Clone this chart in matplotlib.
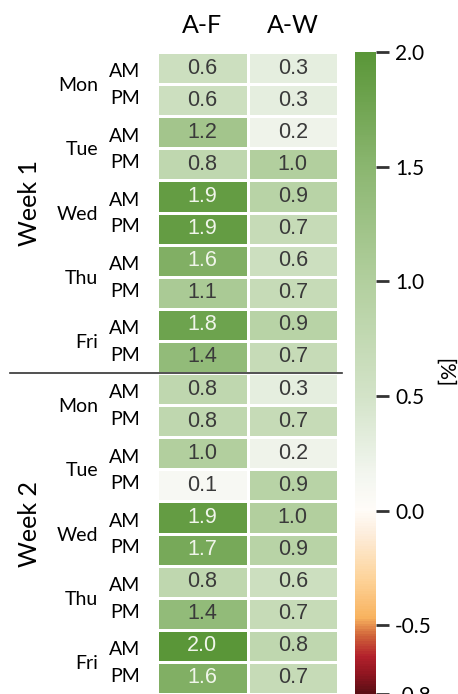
import numpy as np
import matplotlib
matplotlib.use('Agg')
import matplotlib.pyplot as plt
from matplotlib.colors import LinearSegmentedColormap, Normalize
from matplotlib.transforms import blended_transform_factory

# data
columns = ['A-F', 'A-W']
weeks = ['Week 1', 'Week 2']
days = ['Mon', 'Tue', 'Wed', 'Thu', 'Fri']
halves = ['AM', 'PM']

week1_af = [0.6, 0.6, 1.2, 0.8, 1.9, 1.9, 1.6, 1.1, 1.8, 1.4]
week1_aw = [0.3, 0.3, 0.2, 1.0, 0.9, 0.7, 0.6, 0.7, 0.9, 0.7]
week2_af = [0.8, 0.8, 1.0, 0.1, 1.9, 1.7, 0.8, 1.4, 2.0, 1.6]
week2_aw = [0.3, 0.7, 0.2, 0.9, 1.0, 0.9, 0.6, 0.7, 0.8, 0.7]

cbar_ticks = [2.0, 1.5, 1.0, 0.5, 0.0, -0.5, -0.8]
vmin, vmax = -0.8, 2.0

values = np.column_stack([week1_af + week2_af, week1_aw + week2_aw])
nrows = values.shape[0]

# diverging map: dark red -> orange -> white at 0 -> green
nodes = [(-0.8, '#5c0f15'), (-0.72, '#8f1520'), (-0.64, '#b3212c'),
         (-0.55, '#d0643a'), (-0.47, '#f8b35f'), (-0.3, '#fdd39a'),
         (-0.1, '#fdeedd'), (0.0, '#fffcf8'), (0.15, '#f3f6f0'),
         (0.5, '#d3e3c8'), (1.0, '#b2cf9e'), (1.5, '#8bb670'),
         (2.0, '#5a9638')]
cmap = LinearSegmentedColormap.from_list(
    'rdgn', [((v - vmin) / (vmax - vmin), c) for v, c in nodes])
norm = Normalize(vmin=vmin, vmax=vmax)

label_font = 'Lato'
num_font = 'Liberation Sans'

fig = plt.figure(figsize=(4.58, 6.94), dpi=100)
ax = fig.add_axes([0.343, 0.0, 0.395, 0.925])
cax = fig.add_axes([0.775, 0.0, 0.045, 0.925])

mesh = ax.pcolormesh(values, cmap=cmap, norm=norm,
                     edgecolors='white', linewidth=2)
ax.set_xlim(0, 2)
ax.set_ylim(nrows, 0)
ax.set_xticks([])
ax.set_yticks([])
for s in ax.spines.values():
    s.set_visible(False)

for r in range(nrows):
    for c in range(2):
        v = values[r, c]
        col = '#f0f5ea' if v >= 1.5 else '#3a3a3a'
        ax.text(c + 0.5, r + 0.5, f'{v:.1f}', ha='center', va='center',
                fontsize=15.5, color=col, family=num_font)

for c, name in enumerate(columns):
    ax.text(c + 0.5, 1.042, name, transform=blended_transform_factory(ax.transData, ax.transAxes),
            ha='center', va='center', fontsize=18, family=label_font)

tr = blended_transform_factory(fig.transFigure, ax.transData)
for w, wname in enumerate(weeks):
    base = w * 10
    ax.text(0.065, base + 4.7, wname, transform=tr, rotation=90,
            ha='center', va='center', fontsize=18, family=label_font)
    for d, dname in enumerate(days):
        r0 = base + 2 * d
        ax.text(0.214, r0 + 1.05, dname, transform=tr, ha='right', va='center',
                fontsize=14, family=label_font)
        ax.text(0.306, r0 + 0.62, halves[0], transform=tr, ha='right', va='center',
                fontsize=14, family=label_font)
        ax.text(0.306, r0 + 1.45, halves[1], transform=tr, ha='right', va='center',
                fontsize=14, family=label_font)

# separator between the two weeks
ax.plot([0.022, 0.747], [10, 10], color='#333333', lw=1.2,
        transform=tr, clip_on=False)

cb = fig.colorbar(mesh, cax=cax, ticks=cbar_ticks)
cb.outline.set_visible(False)
cb.ax.tick_params(length=9, width=2, pad=5, labelsize=15, color='#333333')
cb.ax.set_yticklabels([f'{t:.1f}' for t in cbar_ticks], family=label_font)
cb.set_label('[%]', rotation=270, fontsize=15, family=label_font, labelpad=16)

fig.savefig('out.png', dpi=100)
